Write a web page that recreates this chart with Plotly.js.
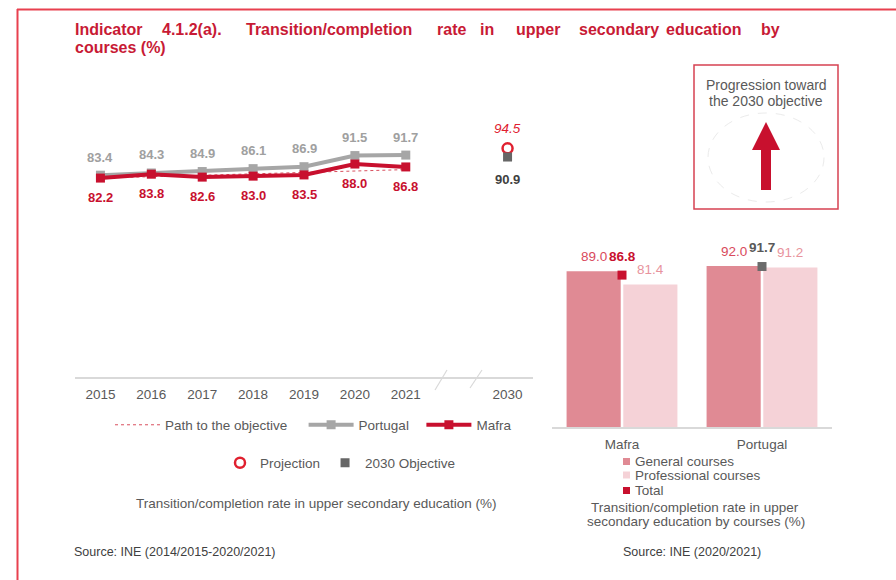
<!DOCTYPE html>
<html>
<head>
<meta charset="utf-8">
<script src="https://cdn.plot.ly/plotly-3.0.1.min.js"></script>
<style>
  html, body { margin: 0; padding: 0; background: #fff; }
</style>
</head>
<body>
<div id="plot" style="width:896px;height:580px"></div>
<script>
// Line chart data
let years = ["2015", "2016", "2017", "2018", "2019", "2020", "2021"]
let portugal = [83.4, 84.3, 84.9, 86.1, 86.9, 91.5, 91.7]
let mafra = [82.2, 83.8, 82.6, 83.0, 83.5, 88.0, 86.8]
let pathToObjective = [82.2, 82.8, 83.4, 83.9, 84.5, 85.1, 85.7]
let targetYear = "2030"
let projection = [94.5]
let objective = [90.9]

// Bar chart data
let places = ["Mafra", "Portugal"]
let generalCourses = [89.0, 92.0]
let professionalCourses = [81.4, 91.2]
let totalCourses = [86.8, 91.7]

let font = "Liberation Sans, Arial, sans-serif"
let red = "#c8102e"
let grey = "#a6a6a6"
let textGrey = "#595959"

// pixel -> paper helpers (margins are zero, so paper = whole page)
function px(x) { return x / 896 }
function py(y) { return 1 - y / 580 }

// x positions: one slot per year, an empty slot for the axis break, then 2030
let yearX = years.map((y, i) => i)
let targetX = years.length + 1

let pathTrace = {
  x: yearX, y: pathToObjective, name: "Path to the objective\u00a0\u00a0\u00a0",
  mode: "lines", line: {color: "#d9505f", width: 1, dash: "dot"}
}
let portugalTrace = {
  x: yearX, y: portugal, name: "Portugal\u00a0\u00a0",
  mode: "lines+markers", line: {color: grey, width: 4},
  marker: {symbol: "square", size: 9, color: grey}
}
let mafraTrace = {
  x: yearX, y: mafra, name: "Mafra",
  mode: "lines+markers", line: {color: red, width: 4},
  marker: {symbol: "square", size: 9, color: red}
}
let projectionTrace = {
  x: [targetX], y: projection, name: "Projection", legend: "legend2",
  mode: "markers", marker: {symbol: "circle-open", size: 10, color: "#e0202f", line: {width: 2.5}}
}
let objectiveTrace = {
  x: [targetX], y: objective, name: "2030 Objective", legend: "legend2",
  mode: "markers", marker: {symbol: "square", size: 9, color: "#666666"}
}

let generalTrace = {
  x: places, y: generalCourses, name: "General courses", type: "bar",
  marker: {color: "#e08a94"}, xaxis: "x2", yaxis: "y2", showlegend: false
}
let professionalTrace = {
  x: places, y: professionalCourses, name: "Professional courses", type: "bar",
  marker: {color: "#f5d2d7"}, xaxis: "x2", yaxis: "y2", showlegend: false
}
let totalTrace = {
  x: places, y: totalCourses, name: "Total", mode: "markers",
  marker: {symbol: "square", size: 9, color: [red, "#6b6b6b"]},
  xaxis: "x2", yaxis: "y2", showlegend: false
}

let data = [pathTrace, portugalTrace, mafraTrace, projectionTrace, objectiveTrace,
  generalTrace, professionalTrace, totalTrace]

// Annotations
let annotations = []

// title, placed word by word to keep the justified look
let titleWords = [["Indicator", 73], ["4.1.2(a).", 160], ["Transition/completion", 244],
  ["rate", 435], ["in", 478], ["upper", 514], ["secondary", 577], ["education", 664], ["by", 759]]
titleWords.forEach(w => {
  annotations.push({xref: "paper", yref: "paper", x: px(w[1]), y: py(29), xanchor: "left", yanchor: "middle",
    text: "<b>" + w[0] + "</b>", showarrow: false, font: {size: 16, color: "#c81a35", family: font}})
})
annotations.push({xref: "paper", yref: "paper", x: px(73), y: py(48), xanchor: "left", yanchor: "middle",
  text: "<b>courses (%)</b>", showarrow: false, font: {size: 16, color: "#c81a35", family: font}})

// line chart value labels
portugal.forEach((v, i) => {
  annotations.push({x: yearX[i], y: v, text: "<b>" + v.toFixed(1) + "</b>", showarrow: false,
    yshift: 18, font: {size: 13, color: "#a0a0a0", family: font}})
})
mafra.forEach((v, i) => {
  annotations.push({x: yearX[i], y: v, text: "<b>" + v.toFixed(1) + "</b>", showarrow: false,
    yshift: -19.5, font: {size: 13, color: red, family: font}})
})
annotations.push({x: targetX, y: projection[0], text: "<i>" + projection[0].toFixed(1) + "</i>", showarrow: false,
  yshift: 20, font: {size: 13.5, color: "#e0202f", family: font}})
annotations.push({x: targetX, y: objective[0], text: "<b>" + objective[0].toFixed(1) + "</b>", showarrow: false,
  yshift: -22, font: {size: 13, color: "#404040", family: font}})

// bar chart value labels
places.forEach((p, i) => {
  annotations.push({xref: "x2", yref: "y2", x: p, y: generalCourses[i], xshift: -28, yshift: 15,
    text: generalCourses[i].toFixed(1), showarrow: false, font: {size: 13.5, color: "#d94a5c", family: font}})
  annotations.push({xref: "x2", yref: "y2", x: p, y: professionalCourses[i], xshift: 28, yshift: 15,
    text: professionalCourses[i].toFixed(1), showarrow: false, font: {size: 13.5, color: "#e8939d", family: font}})
  annotations.push({xref: "x2", yref: "y2", x: p, y: totalCourses[i], yshift: 19,
    text: "<b>" + totalCourses[i].toFixed(1) + "</b>", showarrow: false,
    font: {size: 13.5, color: i == 0 ? red : textGrey, family: font}})
})

// captions, sources and the progression box text
function note(text, x, y, anchor, size, color) {
  annotations.push({xref: "paper", yref: "paper", x: px(x), y: py(y), xanchor: anchor, yanchor: "middle",
    text: text, showarrow: false, align: "center", font: {size: size, color: color, family: font}})
}
note("Transition/completion rate in upper secondary education (%)", 316, 503, "center", 13.5, textGrey)
note("Transition/completion rate in upper", 695, 507, "center", 13.5, textGrey)
note("secondary education by courses (%)", 696, 521, "center", 13.5, textGrey)
note("Source: INE (2014/2015-2020/2021)", 72, 552, "left", 12.5, "#404040")
note("Source: INE (2020/2021)", 621, 552, "left", 12.5, "#404040")
note("Progression toward", 766, 85, "center", 14, textGrey)
note("the 2030 objective", 766, 101, "center", 14, textGrey)

// legend for the bar chart (drawn by hand to keep the tight spacing)
let barLegend = [["General courses", "#e08a94", 461.5], ["Professional courses", "#f5d2d7", 475], ["Total", red, 490.5]]
barLegend.forEach(b => note(b[0], 633, b[2], "left", 13.5, textGrey))

// Shapes
let shapes = [
  // page frame
  {type: "line", xref: "paper", yref: "paper", x0: px(17), x1: px(896), y0: py(9.5), y1: py(9.5), line: {color: "#e8404f", width: 2}},
  {type: "line", xref: "paper", yref: "paper", x0: px(17.5), x1: px(17.5), y0: py(9), y1: py(580), line: {color: "#e8404f", width: 2}},
  // progression box
  {type: "rect", xref: "paper", yref: "paper", x0: px(694), x1: px(838), y0: py(65), y1: py(209), line: {color: "#d64152", width: 1.5}},
  {type: "circle", xref: "paper", yref: "paper", x0: px(708), x1: px(824), y0: py(113), y1: py(202), line: {color: "#ebebeb", width: 1, dash: "dash"}},
  // axis break marks
  {type: "line", xref: "paper", yref: "paper", x0: px(435), x1: px(447), y0: py(390), y1: py(370), line: {color: "#d9d9d9", width: 1.2}},
  {type: "line", xref: "paper", yref: "paper", x0: px(470), x1: px(482), y0: py(388), y1: py(370), line: {color: "#d9d9d9", width: 1.2}}
]
let arrowPts = [[761, 190], [761, 150], [752, 150], [766, 122], [780, 150], [771, 150], [771, 190]]
let arrowPath = arrowPts.map((p, i) => (i == 0 ? "M" : "L") + px(p[0]) + "," + py(p[1])).join(" ") + " Z"
shapes.push({type: "path", xref: "paper", yref: "paper", path: arrowPath, fillcolor: red, line: {width: 0}})
barLegend.forEach(b => {
  shapes.push({type: "rect", xref: "paper", yref: "paper", x0: px(623), x1: px(630),
    y0: py(b[2] - 3.5), y1: py(b[2] + 3.5), fillcolor: b[1], line: {width: 0}})
})

let layout = {
  width: 896,
  height: 580,
  margin: {l: 0, r: 0, t: 0, b: 0},
  paper_bgcolor: "#fff",
  plot_bgcolor: "rgba(0,0,0,0)",
  font: {family: font, color: textGrey, size: 13},
  showlegend: true,
  xaxis: {
    domain: [px(75), px(533)], range: [-0.5, 8.5],
    tickvals: yearX.concat([targetX]), ticktext: years.concat([targetYear]),
    showline: true, linecolor: "#d9d9d9", linewidth: 1.5,
    showgrid: false, zeroline: false, ticks: "", ticklabelstandoff: 4,
    tickfont: {size: 13.5, color: textGrey}
  },
  yaxis: {domain: [py(377), py(135)], range: [0, 100], visible: false},
  xaxis2: {
    domain: [px(552), px(832)], anchor: "y2", type: "category",
    showline: true, linecolor: "#d9d9d9", linewidth: 1.5,
    showgrid: false, zeroline: false, ticks: "", ticklabelstandoff: 4,
    tickfont: {size: 13.5, color: textGrey}
  },
  yaxis2: {domain: [py(427), py(252)], range: [0, 100], anchor: "x2", visible: false},
  barmode: "group",
  bargap: 0.19,
  bargroupgap: 0.045,
  legend: {
    orientation: "h", x: px(110), y: py(425), xanchor: "left", yanchor: "middle",
    itemwidth: 45, font: {size: 13.5, color: textGrey}, bgcolor: "rgba(0,0,0,0)"
  },
  legend2: {
    orientation: "h", x: px(220), y: py(463), xanchor: "left", yanchor: "middle",
    font: {size: 13.5, color: textGrey}, bgcolor: "rgba(0,0,0,0)"
  },
  annotations: annotations,
  shapes: shapes
}

Plotly.newPlot("plot", data, layout, {displayModeBar: false, staticPlot: true})
</script>
</body>
</html>
